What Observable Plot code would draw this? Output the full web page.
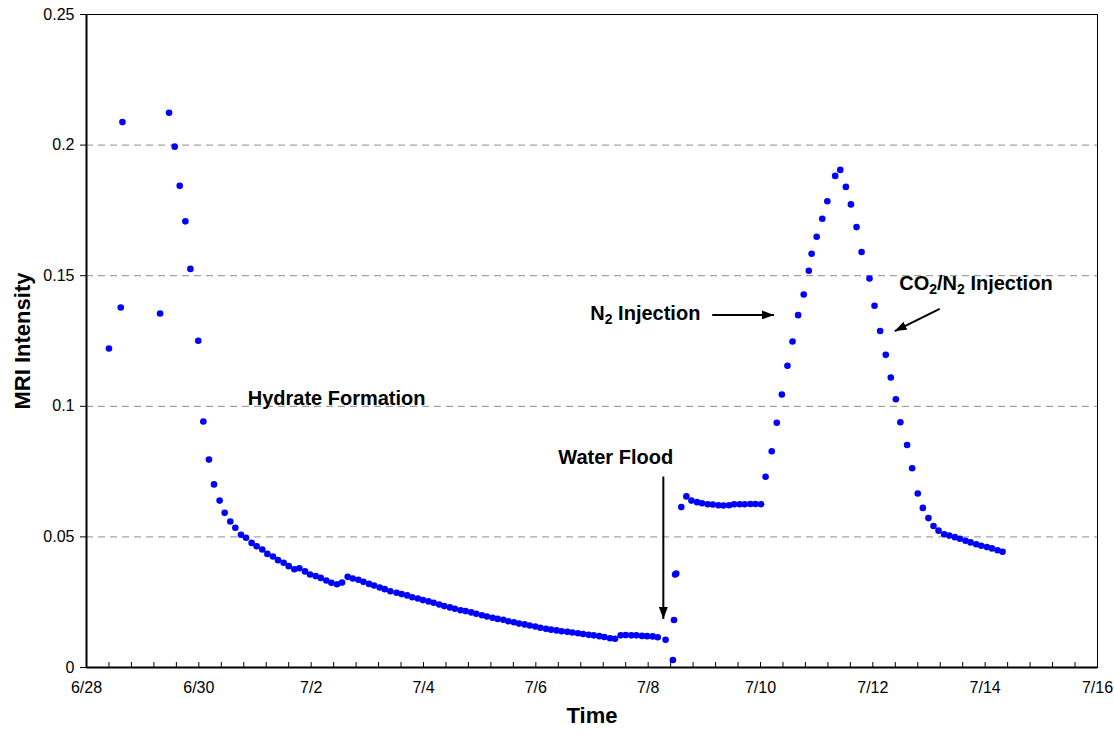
<!DOCTYPE html>
<html>
<head>
<meta charset="utf-8">
<script src="https://cdn.jsdelivr.net/npm/d3@7"></script>
<script src="https://cdn.jsdelivr.net/npm/@observablehq/plot@0.6"></script>
<style>
  html, body { margin: 0; padding: 0; background: #fff; }
  #chart svg { display: block; }
</style>
</head>
<body>
<div id="chart"></div>
<script>
// Days elapsed since 6/28 (fractional) and MRI intensity
const days = [
  0.40,0.61,0.64,1.31,1.47,1.57,1.66,1.76,1.85,1.99,
  2.08,2.18,2.27,2.37,2.46,2.56,2.65,2.75,2.84,2.94,3.03,3.13,3.22,3.32,3.41,3.51,3.60,3.70,3.79,3.89,
  3.98,4.08,4.17,4.27,4.36,4.46,4.55,4.65,4.74,4.84,4.93,5.03,5.12,5.22,5.31,5.41,
  5.52,5.61,5.71,5.80,5.90,5.99,6.09,6.18,6.28,6.37,6.47,6.56,6.66,6.75,6.85,6.94,7.04,7.13,7.23,7.32,
  7.42,7.51,7.61,7.70,7.80,7.89,7.99,8.08,8.18,8.27,8.37,8.46,8.56,8.65,8.75,8.84,8.94,9.03,9.13,9.22,
  9.32,9.41,9.51,9.60,9.70,9.79,9.89,9.98,10.08,10.17,10.31,
  10.44,10.46,10.48,10.50,10.59,10.68,10.77,10.87,10.96,11.06,11.15,11.25,11.34,11.44,11.53,11.63,11.72,11.82,11.91,12.01,
  12.09,12.20,12.29,12.38,12.48,12.57,12.67,12.77,12.86,12.91,13.00,13.10,13.19,13.33,13.42,
  13.52,13.61,13.71,13.80,13.94,14.03,14.13,14.23,14.32,14.41,14.49,14.61,14.70,14.80,14.89,14.99,15.08,15.17,15.27,15.36,
  15.46,15.55,15.65,15.74,15.84,15.93,16.03,16.12,16.22,16.31
];
const intensity = [
  0.1221,0.1378,0.2088,0.1355,0.2124,0.1994,0.1844,0.1708,0.1526,0.1251,
  0.0942,0.0796,0.0701,0.0639,0.0592,0.0559,0.0535,0.0508,0.0497,0.0477,0.0464,0.0452,0.0435,0.0425,0.0411,0.0401,0.0388,0.0376,0.0380,0.0368,
  0.0356,0.0350,0.0343,0.0333,0.0324,0.0319,0.0325,0.0347,0.0341,0.0336,0.0328,0.0320,0.0314,0.0306,0.0300,0.0292,
  0.0286,0.0281,0.0276,0.0269,0.0264,0.0258,0.0253,0.0248,0.0241,0.0235,0.0230,0.0225,0.0219,0.0216,0.0211,0.0206,0.0200,0.0195,0.0190,0.0186,
  0.0183,0.0177,0.0173,0.0168,0.0165,0.0161,0.0157,0.0152,0.0148,0.0145,0.0142,0.0139,0.0137,0.0134,0.0131,0.0128,0.0125,0.0123,0.0120,0.0117,
  0.0112,0.0110,0.0123,0.0124,0.0123,0.0123,0.0121,0.0120,0.0119,0.0116,0.0106,
  0.0029,0.0182,0.0356,0.0360,0.0614,0.0655,0.0639,0.0633,0.0629,0.0625,0.0624,0.0621,0.0620,0.0621,0.0625,0.0625,0.0625,0.0626,0.0626,0.0625,
  0.0730,0.0828,0.0937,0.1045,0.1155,0.1248,0.1349,0.1428,0.1519,0.1584,0.1649,0.1718,0.1785,0.1882,0.1905,
  0.1840,0.1773,0.1686,0.1591,0.1489,0.1385,0.1288,0.1197,0.1110,0.1027,0.0939,0.0852,0.0763,0.0666,0.0611,0.0572,0.0542,0.0524,0.0510,0.0505,
  0.0499,0.0493,0.0485,0.0479,0.0472,0.0466,0.0461,0.0456,0.0449,0.0443
];

const xTickDays = [0, 2, 4, 6, 8, 10, 12, 14, 16, 18];
const xTickLabels = ["6/28", "6/30", "7/2", "7/4", "7/6", "7/8", "7/10", "7/12", "7/14", "7/16"];
const yTicks = [0, 0.05, 0.1, 0.15, 0.2, 0.25];
const yTickLabels = ["0", "0.05", "0.1", "0.15", "0.2", "0.25"];
const gridValues = [0.05, 0.1, 0.15, 0.2];

const labelText = ["Hydrate Formation", "Water Flood", "N2 Injection", "CO2/N2 Injection"];
const labelDay = [2.87, 8.40, 8.97, 14.47];
const labelValue = [0.1030, 0.0804, 0.1355, 0.1469];

const arrowDay1 = [10.27, 11.14, 15.19];
const arrowValue1 = [0.0731, 0.1350, 0.1373];
const arrowDay2 = [10.27, 12.24, 14.39];
const arrowValue2 = [0.0186, 0.1350, 0.1288];

const points = days.map((d, i) => ({day: d, value: intensity[i]}));
const labels = labelText.map((t, i) => ({text: t, day: labelDay[i], value: labelValue[i]}));
const arrows = arrowDay1.map((d, i) => ({x1: d, y1: arrowValue1[i], x2: arrowDay2[i], y2: arrowValue2[i]}));
const minorTicks = d3.range(0, 18.001, 0.4);

const font = "'Liberation Sans', Arial, Helvetica, sans-serif";

const chart = Plot.plot({
  width: 1114,
  height: 738,
  marginLeft: 86,
  marginRight: 17,
  marginTop: 14,
  marginBottom: 71,
  style: {fontFamily: font, fontSize: "16px", background: "#fff", color: "#000"},
  x: {domain: [0, 18]},
  y: {domain: [0, 0.25]},
  marks: [
    Plot.ruleY(gridValues, {stroke: "#8c8c8c", strokeDasharray: "7,5", strokeWidth: 1}),
    Plot.axisY(yTicks, {tickSize: 6, tickPadding: 6, fontSize: 16, label: null,
      tickFormat: d => yTickLabels[yTicks.indexOf(d)]}),
    Plot.axisX(minorTicks, {tickSize: 5, dy: -5, fill: "none", label: null}),
    Plot.axisX(xTickDays, {tickSize: 0, tickPadding: 14, fontSize: 16, label: null,
      tickFormat: d => xTickLabels[xTickDays.indexOf(d)]}),
    Plot.frame({stroke: "#000", strokeWidth: 1}),
    Plot.ruleX([0], {stroke: "#000", strokeWidth: 2}),
    Plot.ruleY([0], {stroke: "#000", strokeWidth: 2}),
    Plot.dot(points, {x: "day", y: "value", r: 3.3, fill: "#0000ff", stroke: null}),
    Plot.text(labels, {x: "day", y: "value", text: "text", textAnchor: "start", lineAnchor: "middle",
      fontWeight: "bold", fontSize: 20, fill: "#000"}),
    Plot.link(arrows, {x1: "x1", y1: "y1", x2: "x2", y2: "y2", stroke: "#000", strokeWidth: 2}),
    Plot.text(["MRI Intensity"], {frameAnchor: "left", dx: -64, rotate: -90, textAnchor: "middle",
      lineAnchor: "middle", fontWeight: "bold", fontSize: 22, fill: "#000"}),
    Plot.text(["Time"], {frameAnchor: "bottom", dy: 48, textAnchor: "middle", lineAnchor: "middle",
      fontWeight: "bold", fontSize: 22, fill: "#000"})
  ]
});

document.getElementById("chart").appendChild(chart);

const svg = d3.select(chart.tagName.toLowerCase() === "svg" ? chart : chart.querySelector("svg"));

// filled arrowheads for the annotation links
const defs = svg.insert("defs", ":first-child");
defs.append("marker")
  .attr("id", "arrowhead")
  .attr("viewBox", "0 0 12 9")
  .attr("refX", 12).attr("refY", 4.5)
  .attr("markerWidth", 12).attr("markerHeight", 9)
  .attr("markerUnits", "userSpaceOnUse")
  .attr("orient", "auto")
  .append("path").attr("d", "M0,0L12,4.5L0,9Z").attr("fill", "#000");
svg.selectAll('g[aria-label="link"] path').attr("marker-end", "url(#arrowhead)");

// subscript "2" in chemical formulas
svg.selectAll("text").each(function() {
  const t = this.textContent;
  if (!labelText.includes(t) || t.indexOf("2") < 0) return;
  const sel = d3.select(this);
  sel.text(null);
  const parts = t.split("2");
  parts.forEach((p, i) => {
    const ts = sel.append("tspan").text(p);
    if (i > 0) ts.attr("dy", -4);
    if (i < parts.length - 1) {
      sel.append("tspan").text("2").attr("font-size", 14).attr("dy", 4);
    }
  });
});
</script>
</body>
</html>
